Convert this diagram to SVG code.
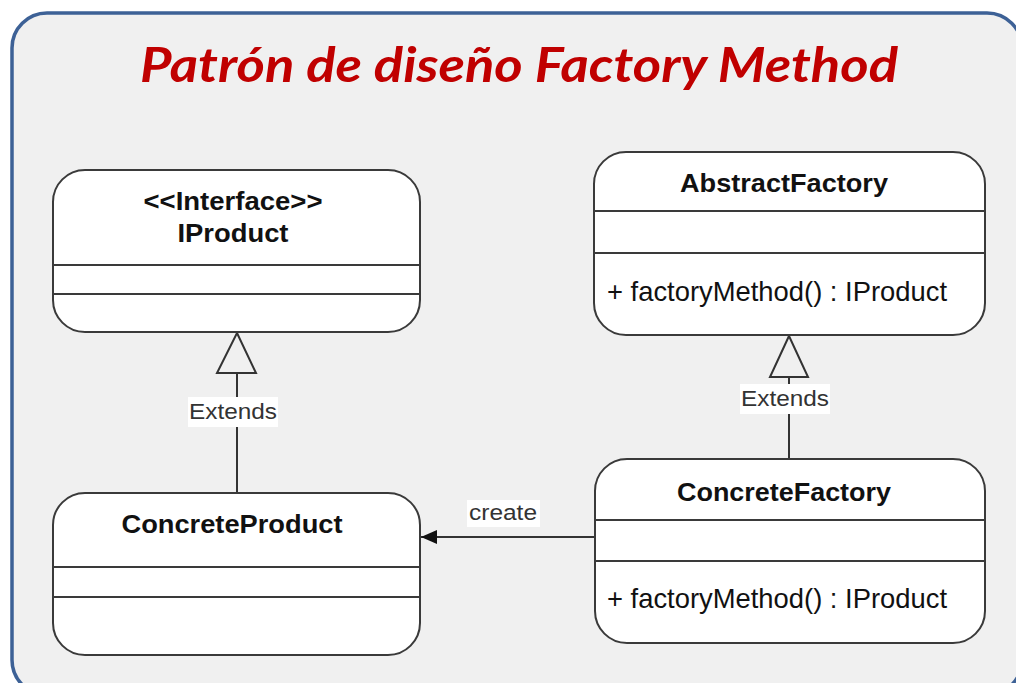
<svg xmlns="http://www.w3.org/2000/svg" width="1016" height="683" viewBox="0 0 1016 683">
  <style>
    .box { fill: #ffffff; stroke: #3a3a3a; stroke-width: 2; }
    .div { stroke: #3a3a3a; stroke-width: 2; }
    .name { font-family: "Liberation Sans", Arial, sans-serif; font-weight: bold; font-size: 25px; fill: #111111; text-anchor: middle; }
    .op { font-family: "Liberation Sans", Arial, sans-serif; font-size: 28px; fill: #111111; }
    .lbl { font-family: "Liberation Sans", Arial, sans-serif; font-size: 22px; fill: #333333; text-anchor: middle; }
    .lblbg { fill: #ffffff; }
    .edge { stroke: #333333; stroke-width: 2; fill: none; }
    .gen { fill: #f0f0f0; stroke: #333333; stroke-width: 2; stroke-linejoin: miter; }
  </style>
  <defs>
    <marker id="arrowFilled" markerWidth="16" markerHeight="14" refX="16" refY="7" orient="auto" markerUnits="userSpaceOnUse">
      <path d="M0,0 L16,7 L0,14 Z" fill="#111111"/>
    </marker>
  </defs>

  <!-- page background and framed panel -->
  <rect x="0" y="0" width="1016" height="683" fill="#ffffff"/>
  <rect x="12" y="13" width="1010" height="682" rx="35" ry="35" fill="#f0f0f0" stroke="#3d6196" stroke-width="3.5"/>

  <text x="519" y="82" font-family="Lato, 'Liberation Sans', sans-serif" font-weight="bold" font-style="italic" font-size="47" fill="#c00000" text-anchor="middle" textLength="758" lengthAdjust="spacingAndGlyphs">Patrón de diseño Factory Method</text>

  <!-- connectors -->
  <g id="connectors">
    <!-- ConcreteProduct extends IProduct -->
    <line class="edge" x1="237" y1="493" x2="237" y2="373"/>
    <polygon class="gen" points="237,333 256,373 217,373"/>
    <rect class="lblbg" x="188" y="397" width="90" height="30"/>
    <text class="lbl" x="233" y="419" textLength="88" lengthAdjust="spacingAndGlyphs">Extends</text>

    <!-- ConcreteFactory extends AbstractFactory -->
    <line class="edge" x1="789" y1="459" x2="789" y2="377"/>
    <polygon class="gen" points="789,336 808,377 770,377"/>
    <rect class="lblbg" x="740" y="384" width="90" height="30"/>
    <text class="lbl" x="785" y="406" textLength="88" lengthAdjust="spacingAndGlyphs">Extends</text>

    <!-- ConcreteFactory creates ConcreteProduct -->
    <line class="edge" x1="595" y1="537" x2="421" y2="537" marker-end="url(#arrowFilled)"/>
    <rect class="lblbg" x="467" y="500" width="73" height="27"/>
    <text class="lbl" x="503" y="520" textLength="68" lengthAdjust="spacingAndGlyphs">create</text>
  </g>

  <!-- IProduct interface -->
  <g id="node-iproduct">
    <rect class="box" x="53" y="170" width="367" height="162" rx="32" ry="32"/>
    <line class="div" x1="53" y1="265" x2="420" y2="265"/>
    <line class="div" x1="53" y1="294" x2="420" y2="294"/>
    <text class="name" x="233" y="210" textLength="179" lengthAdjust="spacingAndGlyphs">&lt;&lt;Interface&gt;&gt;</text>
    <text class="name" x="233" y="242" textLength="111" lengthAdjust="spacingAndGlyphs">IProduct</text>
  </g>

  <!-- AbstractFactory -->
  <g id="node-abstractfactory">
    <rect class="box" x="594" y="152" width="391" height="183" rx="32" ry="32"/>
    <line class="div" x1="594" y1="211" x2="985" y2="211"/>
    <line class="div" x1="594" y1="253" x2="985" y2="253"/>
    <text class="name" x="784" y="192" textLength="208" lengthAdjust="spacingAndGlyphs">AbstractFactory</text>
    <text class="op" x="607" y="301" textLength="340" lengthAdjust="spacingAndGlyphs">+ factoryMethod() : IProduct</text>
  </g>

  <!-- ConcreteProduct -->
  <g id="node-concreteproduct">
    <rect class="box" x="53" y="493" width="367" height="162" rx="32" ry="32"/>
    <line class="div" x1="53" y1="567" x2="420" y2="567"/>
    <line class="div" x1="53" y1="597" x2="420" y2="597"/>
    <text class="name" x="232" y="533" textLength="221" lengthAdjust="spacingAndGlyphs">ConcreteProduct</text>
  </g>

  <!-- ConcreteFactory -->
  <g id="node-concretefactory">
    <rect class="box" x="595" y="459" width="390" height="184" rx="32" ry="32"/>
    <line class="div" x1="595" y1="520" x2="985" y2="520"/>
    <line class="div" x1="595" y1="561" x2="985" y2="561"/>
    <text class="name" x="784" y="501" textLength="214" lengthAdjust="spacingAndGlyphs">ConcreteFactory</text>
    <text class="op" x="607" y="608" textLength="340" lengthAdjust="spacingAndGlyphs">+ factoryMethod() : IProduct</text>
  </g>
</svg>
